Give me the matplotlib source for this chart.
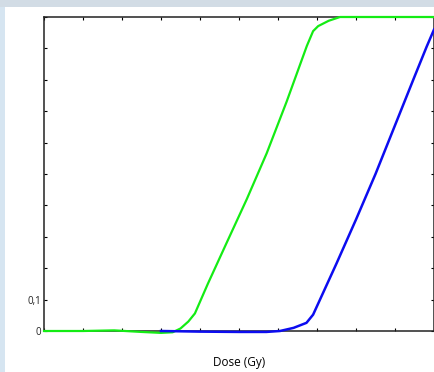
import matplotlib.pyplot as plt
from matplotlib.patches import Rectangle

# values (dose in Gy, fraction)
dose_green = [0, 1.0, 1.8, 2.5, 3.0, 3.3, 3.5, 3.7, 3.87, 4.2, 4.68, 5.2, 5.71, 6.22, 6.74, 6.9, 7.03, 7.3, 7.59, 8, 9, 10]
frac_green = [0, 0, 0.002, -0.003, -0.006, -0.004, 0.008, 0.03, 0.056, 0.15, 0.28, 0.42, 0.566, 0.73, 0.908, 0.955, 0.971, 0.988, 1.0, 1.0, 1.0, 1.0]

dose_blue = [3.0, 4.0, 5.0, 5.7, 6.05, 6.4, 6.73, 6.9, 7.5, 8.0, 8.5, 9.0, 9.5, 9.81, 10.0]
frac_blue = [0, -0.002, -0.003, -0.003, 0, 0.01, 0.026, 0.052, 0.215, 0.355, 0.5, 0.655, 0.81, 0.905, 0.96]

yticks = [0, 0.1, 0.2, 0.3, 0.4, 0.5, 0.6, 0.7, 0.8, 0.9, 1.0]
ylabels = ['0', '0,1', '', '', '', '', '', '', '', '', '']
xticks = list(range(11))

fig = plt.figure(figsize=(4.35, 3.72), dpi=100, facecolor='#d6e5f1')
fig.patches.append(Rectangle((5 / 435, 0), 1, 1 - 7 / 372, transform=fig.transFigure,
                             facecolor='white', edgecolor='none', zorder=-10))
fig.patches.append(Rectangle((0, 1 - 7 / 372), 1, 7 / 372, transform=fig.transFigure,
                             facecolor='#d2dce5', edgecolor='none', zorder=-10))

ax = fig.add_axes([44 / 435, 41 / 372, 390 / 435, 314 / 372])
ax.set_facecolor('white')

ax.plot(dose_green, frac_green, color='#14ec14', lw=1.6, clip_on=False, zorder=3)
ax.plot(dose_blue, frac_blue, color='#0c0cf0', lw=1.8, clip_on=False, zorder=3)

ax.set_xlim(0, 10)
ax.set_ylim(0, 1)
ax.set_xticks(xticks)
ax.set_xticklabels([''] * len(xticks))
ax.set_yticks(yticks)
ax.set_yticklabels(ylabels, fontfamily='Open Sans', fontsize=7, color='#222222')
ax.tick_params(direction='in', length=2.5, width=0.8, top=True, right=True, pad=2)

for s in ax.spines.values():
    s.set_linewidth(1.1)
    s.set_color('#222222')

ax.set_xlabel('Dose (Gy)', fontfamily='Open Sans', fontsize=8.5, labelpad=16)

fig.savefig('out.png', dpi=100, facecolor=fig.get_facecolor())
